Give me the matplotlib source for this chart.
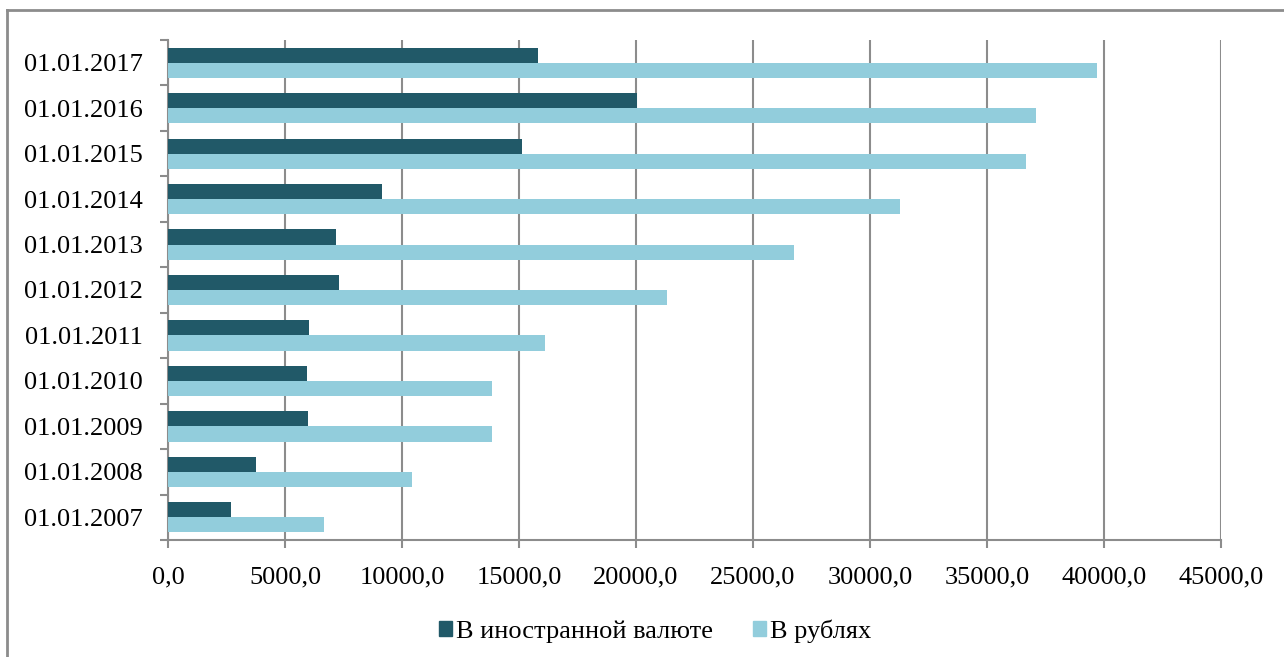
import numpy as np
import matplotlib
matplotlib.use("Agg")
import matplotlib.pyplot as plt
from matplotlib.patches import Patch
from matplotlib.lines import Line2D

# data
dates = ["01.01.2007", "01.01.2008", "01.01.2009", "01.01.2010", "01.01.2011",
         "01.01.2012", "01.01.2013", "01.01.2014", "01.01.2015", "01.01.2016",
         "01.01.2017"]
foreign = [2690, 3760, 5970, 5950, 6010, 7290, 7180, 9130, 15130, 20030, 15800]
rubles = [6680, 10440, 13840, 13840, 16090, 21340, 26740, 31300, 36670, 37100, 39700]
xticks = [0, 5000, 10000, 15000, 20000, 25000, 30000, 35000, 40000, 45000]
series_names = ["В иностранной валюте", "В рублях"]

dark = "#215968"
light = "#92cddc"
grid = "#8c8c8c"

plt.rcParams["font.family"] = ["Liberation Serif", "DejaVu Serif"]

W, H = 1284, 657
fig = plt.figure(figsize=(W / 100, H / 100), dpi=100)

# outer chart frame (left and top edges visible)
fig.add_artist(Line2D([7 / W, 7 / W], [0, 1 - 10 / H], transform=fig.transFigure,
                      color="#8c8c8c", lw=2))
fig.add_artist(Line2D([7 / W, 1], [1 - 10 / H, 1 - 10 / H], transform=fig.transFigure,
                      color="#8c8c8c", lw=2))

ax = fig.add_axes([168 / W, 1 - 540 / H, (1221 - 168) / W, 500 / H])

y = np.arange(len(dates))
h = 0.333
ax.barh(y + h / 2, foreign, height=h, color=dark, zorder=3)
ax.barh(y - h / 2, rubles, height=h, color=light, zorder=3)

ax.set_xlim(0, 45000)
ax.set_ylim(-0.5, len(dates) - 0.5)
ax.set_xticks(xticks)
ax.set_xticklabels([f"{v:.1f}".replace(".", ",") for v in xticks], fontsize=19)
ax.set_yticks(y)
ax.set_yticklabels(dates, fontsize=19)
ax.set_yticks(np.arange(len(dates) + 1) - 0.5, minor=True)

ax.tick_params(axis="y", which="major", length=0, pad=18)
ax.tick_params(axis="y", which="minor", length=6, width=1.5, color=grid)
ax.tick_params(axis="x", length=6, width=1.5, color=grid, pad=13)

ax.grid(axis="x", color=grid, lw=1.5, zorder=0)
for s in ["top", "right"]:
    ax.spines[s].set_visible(False)
for s in ["left", "bottom"]:
    ax.spines[s].set_color(grid)
    ax.spines[s].set_linewidth(1.5)

handles = [Patch(color=dark), Patch(color=light)]
fig.legend(handles, series_names, loc="center", bbox_to_anchor=(655 / W, 1 - 631 / H),
           ncol=2, frameon=False, fontsize=19, handlelength=0.5, handleheight=0.5,
           handletextpad=0.15, columnspacing=1.5)

fig.savefig("out.png", dpi=100)
